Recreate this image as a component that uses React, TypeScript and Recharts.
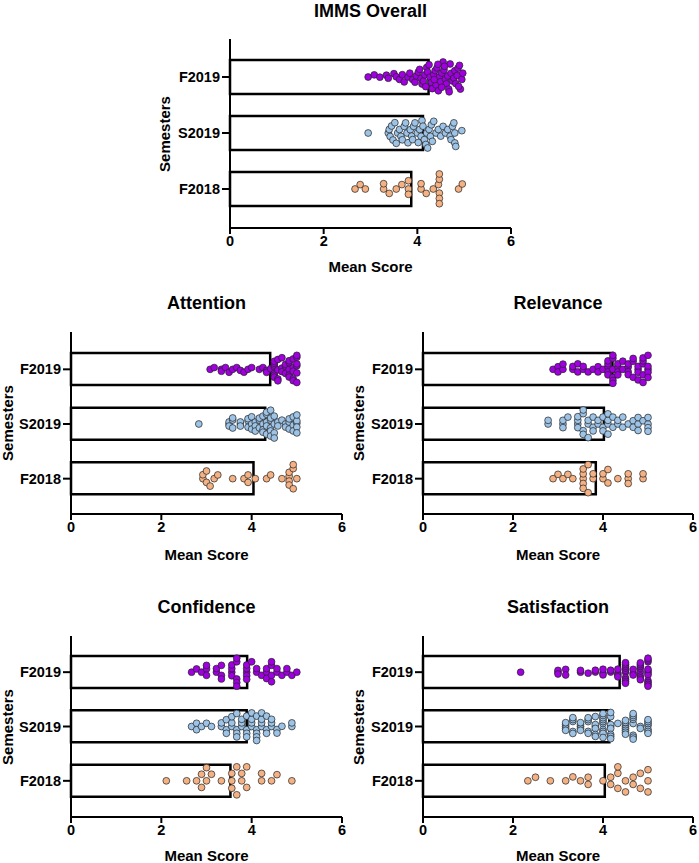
import { ComposedChart, Bar, Scatter, XAxis, YAxis } from 'recharts'

const SEMESTERS = ['F2019', 'S2019', 'F2018']
const COLORS = ['#A000E0', '#9DC3E6', '#F4B183']
const X_TICKS = [0, 2, 4, 6]

const OVERALL_MEANS = [4.24, 4.12, 3.87]
const OVERALL_F2019 = [2.95, 3.08, 3.2, 3.34, 3.38, 3.5, 3.55, 3.62, 3.68, 3.72, 3.8, 3.84, 3.9, 3.95, 3.98, 4.02, 4.05, 4.08, 4.1, 4.13, 4.16, 4.18, 4.2, 4.22, 4.25, 4.27, 4.3, 4.32, 4.35, 4.38, 4.4, 4.42, 4.45, 4.47, 4.5, 4.52, 4.55, 4.57, 4.6, 4.62, 4.65, 4.67, 4.7, 4.72, 4.75, 4.78, 4.8, 4.82, 4.85, 4.87, 4.9, 4.92, 4.95, 4.97, 4.44, 4.58, 4.36, 4.68, 4.88, 4.52]
const OVERALL_S2019 = [2.95, 3.38, 3.4, 3.42, 3.45, 3.48, 3.52, 3.55, 3.58, 3.62, 3.65, 3.68, 3.72, 3.75, 3.78, 3.8, 3.85, 3.88, 3.9, 3.92, 3.95, 4.0, 4.02, 4.05, 4.08, 4.1, 4.12, 4.15, 4.18, 4.2, 4.22, 4.25, 4.28, 4.3, 4.32, 4.35, 4.4, 4.45, 4.5, 4.55, 4.6, 4.65, 4.7, 4.72, 4.75, 4.78, 4.8, 4.8, 4.82, 4.95]
const OVERALL_F2018 = [2.67, 2.78, 2.89, 3.28, 3.28, 3.4, 3.55, 3.67, 3.81, 3.81, 3.81, 4.08, 4.08, 4.19, 4.34, 4.45, 4.47, 4.47, 4.47, 4.47, 4.47, 4.88, 4.96]

const ATT_MEANS = [4.41, 4.3, 4.04]
const ATT_F2019 = [3.08, 3.17, 3.33, 3.33, 3.42, 3.5, 3.58, 3.67, 3.75, 3.83, 3.92, 4.0, 4.17, 4.25, 4.33, 4.33, 4.42, 4.5, 4.5, 4.5, 4.5, 4.5, 4.5, 4.5, 4.58, 4.58, 4.58, 4.58, 4.67, 4.67, 4.67, 4.75, 4.75, 4.75, 4.83, 4.83, 4.83, 4.83, 4.83, 4.92, 4.92, 4.92, 4.92, 4.92, 5, 5, 5, 5, 5, 5]
const ATT_S2019 = [2.83, 3.5, 3.5, 3.5, 3.58, 3.58, 3.58, 3.75, 3.75, 3.75, 3.92, 3.92, 3.92, 4.0, 4.0, 4.0, 4.08, 4.08, 4.08, 4.17, 4.17, 4.17, 4.25, 4.25, 4.25, 4.25, 4.33, 4.33, 4.33, 4.33, 4.33, 4.42, 4.42, 4.42, 4.42, 4.42, 4.42, 4.5, 4.5, 4.5, 4.5, 4.58, 4.58, 4.67, 4.75, 4.75, 4.83, 4.83, 4.83, 4.92, 4.92, 4.92, 5, 5, 5, 5, 5]
const ATT_F2018 = [2.92, 2.92, 3.0, 3.0, 3.08, 3.17, 3.25, 3.58, 3.83, 3.92, 3.92, 4.08, 4.33, 4.42, 4.67, 4.83, 4.83, 4.83, 4.83, 4.92, 4.92, 4.92, 5.0]

const REL_MEANS = [4.21, 4.02, 3.84]
const REL_F2019 = [2.89, 3.0, 3.0, 3.11, 3.11, 3.33, 3.33, 3.44, 3.44, 3.56, 3.56, 3.67, 3.78, 3.89, 3.89, 4.0, 4.11, 4.11, 4.11, 4.11, 4.11, 4.22, 4.22, 4.22, 4.22, 4.22, 4.22, 4.33, 4.33, 4.33, 4.33, 4.44, 4.44, 4.56, 4.56, 4.56, 4.56, 4.67, 4.67, 4.67, 4.78, 4.78, 4.78, 4.78, 4.89, 4.89, 4.89, 4.89, 4.89, 5, 5, 5, 5, 5]
const REL_S2019 = [2.78, 2.78, 3.11, 3.11, 3.11, 3.22, 3.44, 3.44, 3.44, 3.44, 3.56, 3.56, 3.56, 3.56, 3.67, 3.67, 3.67, 3.78, 3.78, 3.78, 3.89, 3.89, 4.0, 4.0, 4.0, 4.11, 4.11, 4.11, 4.11, 4.22, 4.22, 4.33, 4.33, 4.44, 4.44, 4.56, 4.67, 4.67, 4.78, 4.78, 4.78, 4.89, 5.0, 5.0, 5.0, 5.0]
const REL_F2018 = [2.89, 3.0, 3.11, 3.22, 3.33, 3.56, 3.56, 3.56, 3.56, 3.56, 3.67, 3.67, 3.78, 3.78, 4.0, 4.0, 4.11, 4.11, 4.33, 4.56, 4.56, 4.56, 4.89, 4.89]

const CONF_MEANS = [3.9, 3.89, 3.53]
const CONF_F2019 = [2.67, 2.78, 2.89, 3.0, 3.0, 3.0, 3.22, 3.22, 3.33, 3.33, 3.33, 3.56, 3.56, 3.56, 3.56, 3.67, 3.67, 3.67, 3.67, 3.67, 3.89, 3.89, 3.89, 3.89, 3.89, 4.0, 4.11, 4.11, 4.22, 4.33, 4.33, 4.33, 4.44, 4.44, 4.44, 4.44, 4.56, 4.56, 4.67, 4.78, 4.78, 4.89, 5.0]
const CONF_S2019 = [2.67, 2.78, 2.78, 2.89, 3.0, 3.11, 3.33, 3.33, 3.44, 3.44, 3.44, 3.56, 3.56, 3.56, 3.67, 3.67, 3.67, 3.67, 3.78, 3.78, 3.78, 3.89, 3.89, 3.89, 3.89, 4.0, 4.0, 4.0, 4.0, 4.11, 4.11, 4.11, 4.11, 4.11, 4.22, 4.22, 4.22, 4.22, 4.33, 4.33, 4.33, 4.44, 4.44, 4.44, 4.56, 4.56, 4.67, 4.89, 4.89]
const CONF_F2018 = [2.11, 2.56, 2.78, 2.89, 2.89, 3.0, 3.0, 3.11, 3.33, 3.56, 3.56, 3.56, 3.67, 3.67, 3.78, 3.78, 3.89, 3.89, 4.22, 4.22, 4.44, 4.56, 4.89]

const SAT_MEANS = [4.37, 4.14, 4.04]
const SAT_F2019 = [2.17, 3.0, 3.0, 3.0, 3.17, 3.17, 3.5, 3.5, 3.67, 3.83, 3.83, 4.0, 4.0, 4.0, 4.17, 4.17, 4.33, 4.33, 4.33, 4.33, 4.5, 4.5, 4.5, 4.5, 4.5, 4.5, 4.5, 4.5, 4.5, 4.5, 4.67, 4.67, 4.67, 4.83, 4.83, 4.83, 4.83, 4.83, 4.83, 4.83, 4.83, 5, 5, 5, 5, 5, 5, 5, 5, 5, 5, 5]
const SAT_S2019 = [3.17, 3.17, 3.17, 3.17, 3.17, 3.33, 3.33, 3.33, 3.33, 3.33, 3.5, 3.5, 3.5, 3.5, 3.5, 3.67, 3.67, 3.67, 3.67, 3.67, 3.83, 3.83, 3.83, 3.83, 3.83, 3.83, 4.0, 4.0, 4.0, 4.0, 4.0, 4.0, 4.0, 4.0, 4.0, 4.0, 4.17, 4.17, 4.17, 4.17, 4.17, 4.17, 4.17, 4.17, 4.33, 4.5, 4.5, 4.5, 4.5, 4.5, 4.5, 4.5, 4.5, 4.67, 4.67, 4.67, 4.67, 4.67, 4.67, 4.67, 4.67, 4.83, 4.83, 5, 5, 5, 5, 5, 5, 5]
const SAT_F2018 = [2.33, 2.5, 2.83, 3.17, 3.33, 3.5, 3.67, 3.67, 4.0, 4.17, 4.17, 4.33, 4.33, 4.33, 4.5, 4.5, 4.67, 4.67, 4.83, 4.83, 5, 5, 5]

const FONT = '"Liberation Sans", Arial, sans-serif'
const YW = 72 // y axis width
const XH = 40 // x axis height
const MT = 10
const MR = 16
const DOT_R = 3.4
const DOT_GAP = 9

// simple beeswarm: offset each dot vertically (px) so no two overlap, then squeeze into the bar
function swarm(values: number[], kx: number, maxOff: number) {
  const order = values.map((_, i) => i).sort((a, b) => values[a] - values[b])
  const placed: { x: number; y: number }[] = []
  const off = new Array(values.length).fill(0)
  for (const i of order) {
    const x = values[i] * kx
    let best = 0
    for (let k = 0; k < 600; k++) {
      const c = (k % 2 === 0 ? 1 : -1) * Math.ceil(k / 2) * 0.5
      if (placed.every(p => (p.x - x) ** 2 + (p.y - c) ** 2 >= DOT_GAP * DOT_GAP - 0.01)) {
        best = c
        break
      }
    }
    placed.push({ x, y: best })
    off[i] = best
  }
  const m = Math.max(...off.map(Math.abs))
  const s = m > maxOff ? maxOff / m : 1
  return off.map(o => o * s)
}

type PanelCfg = {
  title: string
  x: number
  y: number
  w: number
  h: number
  pt: number
  pb: number
  bar: number
  titleY: number
  semX: number
  meanY: number
  means: number[]
  dots: number[][]
}

const PANELS: PanelCfg[] = [
  { title: 'IMMS Overall', x: 230, y: 39, w: 281, h: 189, pt: 10, pb: 11, bar: 34, titleY: 11, semX: 165, meanY: 267, means: OVERALL_MEANS, dots: [OVERALL_F2019, OVERALL_S2019, OVERALL_F2018] },
  { title: 'Attention', x: 71, y: 332, w: 271, h: 182, pt: 10, pb: 8, bar: 32, titleY: 303, semX: 8, meanY: 555, means: ATT_MEANS, dots: [ATT_F2019, ATT_S2019, ATT_F2018] },
  { title: 'Relevance', x: 423, y: 332, w: 270, h: 182, pt: 10, pb: 8, bar: 32, titleY: 303, semX: 359, meanY: 555, means: REL_MEANS, dots: [REL_F2019, REL_S2019, REL_F2018] },
  { title: 'Confidence', x: 71, y: 636, w: 271, h: 181, pt: 9, pb: 9, bar: 32, titleY: 607, semX: 8, meanY: 856, means: CONF_MEANS, dots: [CONF_F2019, CONF_S2019, CONF_F2018] },
  { title: 'Satisfaction', x: 423, y: 636, w: 270, h: 181, pt: 9, pb: 9, bar: 32, titleY: 607, semX: 359, meanY: 856, means: SAT_MEANS, dots: [SAT_F2019, SAT_S2019, SAT_F2018] },
]

const tickStyle = { fill: '#000', fontSize: 14.5, fontWeight: 'bold', fontFamily: FONT }
const labelStyle = { position: 'absolute' as const, fontFamily: FONT, fontWeight: 'bold', color: '#000', textAlign: 'center' as const, whiteSpace: 'nowrap' as const }

const Panel = ({ p }: { p: PanelCfg }) => {
  const W = YW + p.w + MR
  const H = MT + p.h + XH
  const step = (p.h - p.pt - p.pb) / 3
  const kx = p.w / 6
  const rows = SEMESTERS.map((sem, i) => ({ sem, mean: p.means[i] }))
  // numeric y runs bottom-up here, so the first semester sits at 2.5
  const groups = p.dots.map((vals, i) => {
    const off = swarm(vals, kx, p.bar / 2 - 2)
    return vals.map((v, j) => ({ x: v, y: 2.5 - i - off[j] / step }))
  })
  return (
    <>
      <div style={{ ...labelStyle, left: p.x, width: p.w, top: p.titleY - 11, fontSize: 18, lineHeight: '22px' }}>{p.title}</div>
      <div style={{ ...labelStyle, left: p.x, width: p.w, top: p.meanY - 9, fontSize: 15, lineHeight: '18px' }}>Mean Score</div>
      <div style={{ ...labelStyle, left: p.semX - 60, width: 120, top: p.y + p.h / 2 - 9, fontSize: 15, lineHeight: '18px', transform: 'rotate(-90deg)' }}>Semesters</div>
      <div style={{ position: 'absolute', left: p.x - YW, top: p.y - MT }}>
        <ComposedChart width={W} height={H} layout="vertical" data={rows} margin={{ top: MT, right: MR, bottom: 0, left: 0 }}>
          <XAxis type="number" dataKey="x" domain={[0, 6]} ticks={X_TICKS} height={XH} tick={tickStyle}
            axisLine={{ stroke: '#000', strokeWidth: 2 }} tickLine={{ stroke: '#000', strokeWidth: 2 }} tickSize={6} />
          <YAxis yAxisId="cat" type="category" dataKey="sem" width={YW} padding={{ top: p.pt, bottom: p.pb }} tick={tickStyle}
            axisLine={{ stroke: '#000', strokeWidth: 2 }} tickLine={{ stroke: '#000', strokeWidth: 2 }} tickSize={8} />
          <YAxis yAxisId="num" type="number" dataKey="y" domain={[0, 3]} reversed hide allowDataOverflow padding={{ top: p.pt, bottom: p.pb }} />
          <Bar yAxisId="cat" dataKey="mean" barSize={p.bar} fill="#fff" stroke="#000" strokeWidth={2.5} isAnimationActive={false} />
          {groups.map((g, i) => (
            <Scatter key={i} yAxisId="num" data={g} isAnimationActive={false}
              shape={(s: any) => <circle cx={s.cx} cy={s.cy} r={DOT_R} fill={COLORS[i]} stroke="#222" strokeWidth={0.7} />} />
          ))}
        </ComposedChart>
      </div>
    </>
  )
}

export default function App() {
  return (
    <div style={{ position: 'absolute', left: 0, top: 0, width: 699, height: 863, background: '#fff' }}>
      {PANELS.map(p => <Panel key={p.title} p={p} />)}
    </div>
  )
}
